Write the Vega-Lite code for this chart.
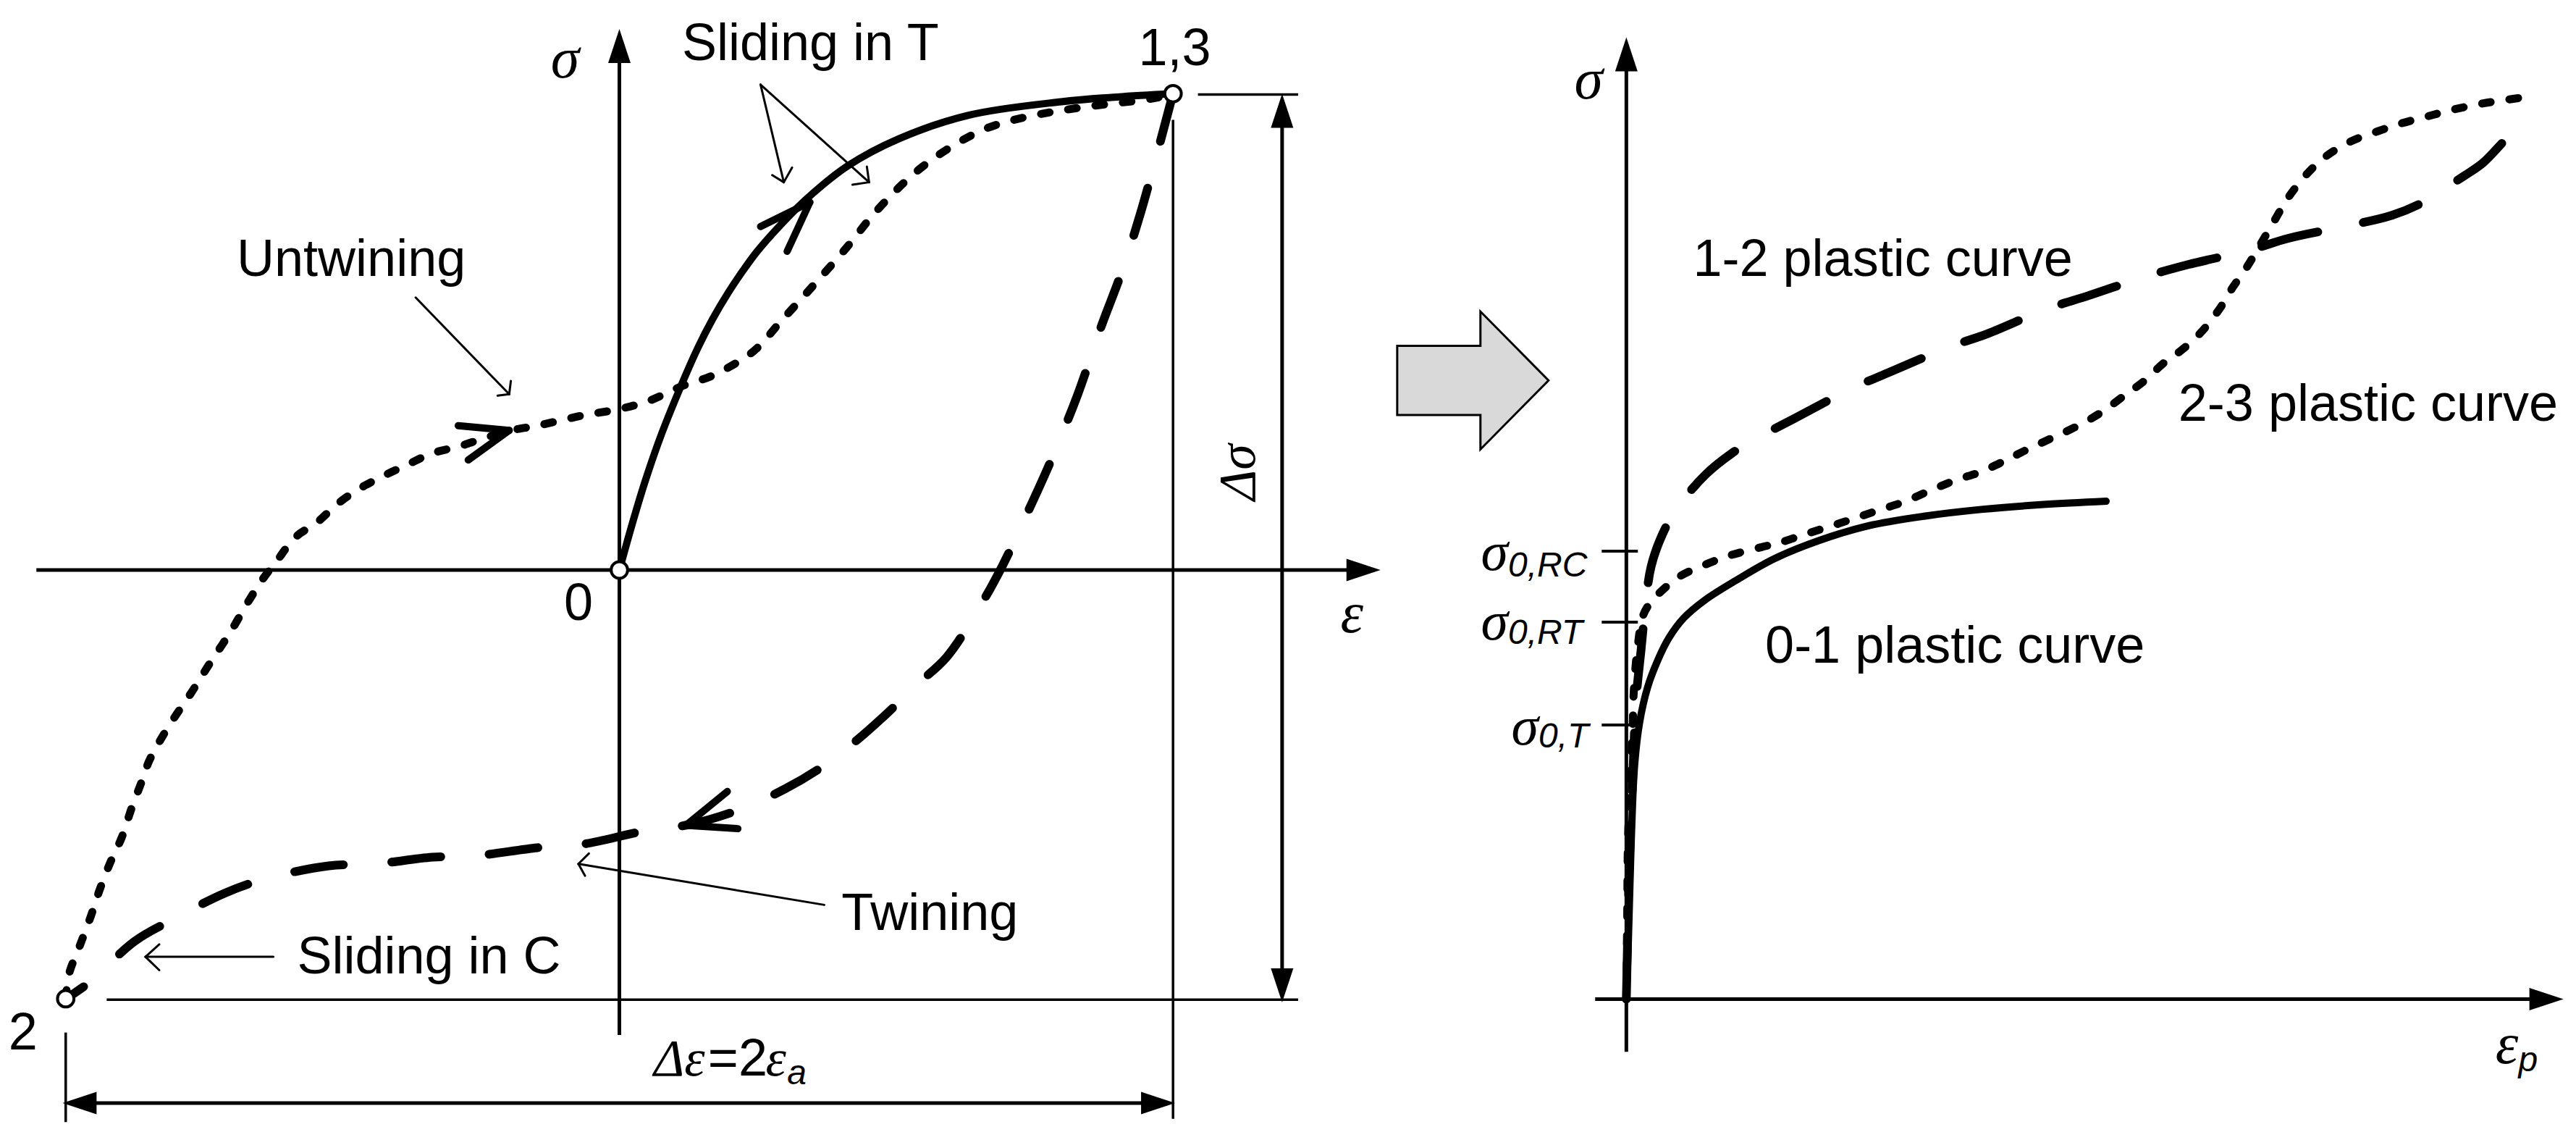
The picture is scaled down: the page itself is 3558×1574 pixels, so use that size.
{
"$schema":"https://vega.github.io/schema/vega-lite/v6.json",
"padding":0,
"bounds":"flush",
"spacing":0,
"config":{"view":{"stroke":null},"concat":{"spacing":0}},
"datasets":{
"lc":[
{"c":"solid","i":0,"x":0,"y":0},{"c":"solid","i":1,"x":0.024,"y":0.1},{"c":"solid","i":2,"x":0.047,"y":0.188},{"c":"solid","i":3,"x":0.077,"y":0.288},{"c":"solid","i":4,"x":0.113,"y":0.391},{"c":"solid","i":5,"x":0.142,"y":0.467},{"c":"solid","i":6,"x":0.169,"y":0.528},{"c":"solid","i":7,"x":0.196,"y":0.581},{"c":"solid","i":8,"x":0.223,"y":0.628},{"c":"solid","i":9,"x":0.249,"y":0.669},{"c":"solid","i":10,"x":0.294,"y":0.728},{"c":"solid","i":11,"x":0.338,"y":0.779},{"c":"solid","i":12,"x":0.412,"y":0.848},{"c":"solid","i":13,"x":0.504,"y":0.905},{"c":"solid","i":14,"x":0.632,"y":0.955},{"c":"solid","i":15,"x":0.798,"y":0.983},{"c":"solid","i":16,"x":0.899,"y":0.993},{"c":"solid","i":17,"x":1,"y":1},
{"c":"dotted","i":0,"x":-1,"y":-0.9},{"c":"dotted","i":1,"x":-0.994,"y":-0.848},{"c":"dotted","i":2,"x":-0.975,"y":-0.79},{"c":"dotted","i":3,"x":-0.955,"y":-0.728},{"c":"dotted","i":4,"x":-0.938,"y":-0.669},{"c":"dotted","i":5,"x":-0.918,"y":-0.61},{"c":"dotted","i":6,"x":-0.899,"y":-0.562},{"c":"dotted","i":7,"x":-0.881,"y":-0.5},{"c":"dotted","i":8,"x":-0.864,"y":-0.448},{"c":"dotted","i":9,"x":-0.849,"y":-0.4},{"c":"dotted","i":10,"x":-0.828,"y":-0.355},{"c":"dotted","i":11,"x":-0.804,"y":-0.31},{"c":"dotted","i":12,"x":-0.774,"y":-0.259},{"c":"dotted","i":13,"x":-0.742,"y":-0.2},{"c":"dotted","i":14,"x":-0.703,"y":-0.131},{"c":"dotted","i":15,"x":-0.668,"y":-0.062},{"c":"dotted","i":16,"x":-0.641,"y":-0.014},{"c":"dotted","i":17,"x":-0.62,"y":0.017},{"c":"dotted","i":18,"x":-0.585,"y":0.069},{"c":"dotted","i":19,"x":-0.546,"y":0.1},{"c":"dotted","i":20,"x":-0.51,"y":0.138},{"c":"dotted","i":21,"x":-0.472,"y":0.169},{"c":"dotted","i":22,"x":-0.427,"y":0.197},{"c":"dotted","i":23,"x":-0.383,"y":0.221},{"c":"dotted","i":24,"x":-0.338,"y":0.245},{"c":"dotted","i":25,"x":-0.291,"y":0.259},{"c":"dotted","i":26,"x":-0.246,"y":0.276},{"c":"dotted","i":27,"x":-0.196,"y":0.293},{"c":"dotted","i":28,"x":-0.148,"y":0.303},{"c":"dotted","i":29,"x":-0.068,"y":0.324},{"c":"dotted","i":30,"x":0,"y":0.338},{"c":"dotted","i":31,"x":0.053,"y":0.355},{"c":"dotted","i":32,"x":0.113,"y":0.386},{"c":"dotted","i":33,"x":0.166,"y":0.407},{"c":"dotted","i":34,"x":0.22,"y":0.441},{"c":"dotted","i":35,"x":0.249,"y":0.466},{"c":"dotted","i":36,"x":0.291,"y":0.521},{"c":"dotted","i":37,"x":0.347,"y":0.593},{"c":"dotted","i":38,"x":0.412,"y":0.679},{"c":"dotted","i":39,"x":0.463,"y":0.752},{"c":"dotted","i":40,"x":0.531,"y":0.831},{"c":"dotted","i":41,"x":0.596,"y":0.886},{"c":"dotted","i":42,"x":0.665,"y":0.928},{"c":"dotted","i":43,"x":0.739,"y":0.952},{"c":"dotted","i":44,"x":0.84,"y":0.972},{"c":"dotted","i":45,"x":0.964,"y":0.99},{"c":"dotted","i":46,"x":1,"y":1},
{"c":"dashed","i":0,"x":1,"y":1},{"c":"dashed","i":1,"x":0.97,"y":0.869},{"c":"dashed","i":2,"x":0.941,"y":0.748},{"c":"dashed","i":3,"x":0.908,"y":0.628},{"c":"dashed","i":4,"x":0.869,"y":0.507},{"c":"dashed","i":5,"x":0.828,"y":0.369},{"c":"dashed","i":6,"x":0.78,"y":0.231},{"c":"dashed","i":7,"x":0.733,"y":0.11},{"c":"dashed","i":8,"x":0.691,"y":0.007},{"c":"dashed","i":9,"x":0.65,"y":-0.079},{"c":"dashed","i":10,"x":0.591,"y":-0.183},{"c":"dashed","i":11,"x":0.537,"y":-0.241},{"c":"dashed","i":12,"x":0.478,"y":-0.307},{"c":"dashed","i":13,"x":0.424,"y":-0.362},{"c":"dashed","i":14,"x":0.365,"y":-0.414},{"c":"dashed","i":15,"x":0.3,"y":-0.459},{"c":"dashed","i":16,"x":0.217,"y":-0.503},{"c":"dashed","i":17,"x":0.128,"y":-0.534},{"c":"dashed","i":18,"x":0.045,"y":-0.548},{"c":"dashed","i":19,"x":-0.068,"y":-0.576},{"c":"dashed","i":20,"x":-0.148,"y":-0.583},{"c":"dashed","i":21,"x":-0.261,"y":-0.6},{"c":"dashed","i":22,"x":-0.338,"y":-0.603},{"c":"dashed","i":23,"x":-0.442,"y":-0.617},{"c":"dashed","i":24,"x":-0.525,"y":-0.621},{"c":"dashed","i":25,"x":-0.638,"y":-0.648},{"c":"dashed","i":26,"x":-0.712,"y":-0.678},{"c":"dashed","i":27,"x":-0.807,"y":-0.734},{"c":"dashed","i":28,"x":-0.875,"y":-0.779},{"c":"dashed","i":29,"x":-0.961,"y":-0.869},{"c":"dashed","i":30,"x":-1,"y":-0.9}
],
"lr":[
{"k":"axis","x":-1.053,"y":0,"x2":1.329,"y2":0},
{"k":"axis","x":0,"y":-0.976,"x2":0,"y2":1.076},
{"k":"ext","x":1.045,"y":0.998,"x2":1.226,"y2":0.998},
{"k":"ext","x":-0.926,"y":-0.902,"x2":1.226,"y2":-0.902},
{"k":"ext","x":-1,"y":-0.971,"x2":-1,"y2":-1.159},
{"k":"ext","x":1,"y":0.945,"x2":1,"y2":-1.152},
{"k":"dim","x":1.197,"y":0.948,"x2":1.197,"y2":-0.859},
{"k":"dim","x":-0.961,"y":-1.119,"x2":0.958,"y2":-1.119},
{"k":"lead","x":-0.368,"y":0.572,"x2":-0.199,"y2":0.369},
{"k":"lead","x":-0.199,"y":0.369,"x2":-0.196,"y2":0.397},
{"k":"lead","x":-0.199,"y":0.369,"x2":-0.22,"y2":0.366},
{"k":"lead","x":0.255,"y":1.019,"x2":0.297,"y2":0.814},
{"k":"lead","x":0.297,"y":0.814,"x2":0.276,"y2":0.829},
{"k":"lead","x":0.297,"y":0.814,"x2":0.312,"y2":0.845},
{"k":"lead","x":0.255,"y":1.019,"x2":0.451,"y2":0.814},
{"k":"lead","x":0.451,"y":0.814,"x2":0.421,"y2":0.809},
{"k":"lead","x":0.451,"y":0.814,"x2":0.447,"y2":0.847},
{"k":"lead","x":0.37,"y":-0.703,"x2":-0.074,"y2":-0.617},
{"k":"lead","x":-0.074,"y":-0.617,"x2":-0.055,"y2":-0.595},
{"k":"lead","x":-0.074,"y":-0.617,"x2":-0.062,"y2":-0.642},
{"k":"lead","x":-0.625,"y":-0.812,"x2":-0.856,"y2":-0.812},
{"k":"lead","x":-0.856,"y":-0.812,"x2":-0.831,"y2":-0.786},
{"k":"lead","x":-0.856,"y":-0.812,"x2":-0.831,"y2":-0.84},
{"k":"barb","x":0.344,"y":0.772,"x2":0.255,"y2":0.721},
{"k":"barb","x":0.344,"y":0.772,"x2":0.303,"y2":0.669},
{"k":"barb","x":-0.199,"y":0.293,"x2":-0.291,"y2":0.303},
{"k":"barb","x":-0.199,"y":0.293,"x2":-0.273,"y2":0.231},
{"k":"barb","x":0.12,"y":-0.536,"x2":0.195,"y2":-0.465},
{"k":"barb","x":0.12,"y":-0.536,"x2":0.214,"y2":-0.543}
],
"lh":[
{"dir":"up","x":0,"y":1.1},
{"dir":"right","x":1.344,"y":0},
{"dir":"up","x":1.197,"y":0.964},
{"dir":"down","x":1.197,"y":-0.872},
{"dir":"left","x":-0.975,"y":-1.119},
{"dir":"right","x":0.973,"y":-1.119}
],
"lp":[{"x":0,"y":0},{"x":1,"y":1},{"x":-1,"y":-0.9}],
"lt":[
{"k":"sl","t":"Sliding in T","x":0.113,"y":1.07},
{"k":"sl","t":"Untwining","x":-0.691,"y":0.617},
{"k":"sl","t":"Twining","x":0.401,"y":-0.755},
{"k":"sl","t":"Sliding in C","x":-0.582,"y":-0.847},
{"k":"sl","t":"=2","x":0.16,"y":-1.062},
{"k":"sc","t":"0","x":-0.074,"y":-0.105},
{"k":"sc","t":"1,3","x":1.003,"y":1.059},
{"k":"sc","t":"2","x":-1.077,"y":-1.007},
{"k":"gc","t":"σ","x":-0.098,"y":1.034},
{"k":"gc","t":"ε","x":1.323,"y":-0.131},
{"k":"gl","t":"Δε","x":0.062,"y":-1.062},
{"k":"gl","t":"ε","x":0.264,"y":-1.062},
{"k":"ss","t":"a","x":0.303,"y":-1.079},
{"k":"rot","t":"Δσ","x":1.148,"y":0.205}
],
"arrow":[{"x":0.369,"y":0.398}],
"rc":[
{"c":"solid","i":0,"x":0,"y":0},{"c":"solid","i":1,"x":0.01,"y":0.28},{"c":"solid","i":2,"x":0.02,"y":0.63},{"c":"solid","i":3,"x":0.03,"y":0.97},{"c":"solid","i":4,"x":0.05,"y":1.42},{"c":"solid","i":5,"x":0.08,"y":1.68},{"c":"solid","i":6,"x":0.13,"y":1.9},{"c":"solid","i":7,"x":0.19,"y":2.06},{"c":"solid","i":8,"x":0.26,"y":2.2},{"c":"solid","i":9,"x":0.35,"y":2.32},{"c":"solid","i":10,"x":0.48,"y":2.43},{"c":"solid","i":11,"x":0.67,"y":2.55},{"c":"solid","i":12,"x":0.9,"y":2.68},{"c":"solid","i":13,"x":1.17,"y":2.79},{"c":"solid","i":14,"x":1.47,"y":2.88},{"c":"solid","i":15,"x":1.82,"y":2.94},{"c":"solid","i":16,"x":2.16,"y":2.98},{"c":"solid","i":17,"x":2.54,"y":3.01},{"c":"solid","i":18,"x":2.92,"y":3.03},
{"c":"dotted","i":0,"x":0,"y":0},{"c":"dotted","i":1,"x":0.005,"y":0.48},{"c":"dotted","i":2,"x":0.01,"y":0.97},{"c":"dotted","i":3,"x":0.023,"y":1.3},{"c":"dotted","i":4,"x":0.038,"y":1.64},{"c":"dotted","i":5,"x":0.045,"y":1.87},{"c":"dotted","i":6,"x":0.067,"y":2.13},{"c":"dotted","i":7,"x":0.104,"y":2.34},{"c":"dotted","i":8,"x":0.16,"y":2.43},{"c":"dotted","i":9,"x":0.21,"y":2.48},{"c":"dotted","i":10,"x":0.32,"y":2.57},{"c":"dotted","i":11,"x":0.47,"y":2.64},{"c":"dotted","i":12,"x":0.63,"y":2.7},{"c":"dotted","i":13,"x":0.82,"y":2.75},{"c":"dotted","i":14,"x":0.94,"y":2.78},{"c":"dotted","i":15,"x":1.09,"y":2.83},{"c":"dotted","i":16,"x":1.25,"y":2.88},{"c":"dotted","i":17,"x":1.4,"y":2.93},{"c":"dotted","i":18,"x":1.55,"y":2.98},{"c":"dotted","i":19,"x":1.7,"y":3.03},{"c":"dotted","i":20,"x":1.86,"y":3.1},{"c":"dotted","i":21,"x":2.01,"y":3.16},{"c":"dotted","i":22,"x":2.16,"y":3.21},{"c":"dotted","i":23,"x":2.31,"y":3.28},{"c":"dotted","i":24,"x":2.43,"y":3.34},{"c":"dotted","i":25,"x":2.58,"y":3.41},{"c":"dotted","i":26,"x":2.73,"y":3.48},{"c":"dotted","i":27,"x":2.89,"y":3.57},{"c":"dotted","i":28,"x":3.04,"y":3.68},{"c":"dotted","i":29,"x":3.15,"y":3.76},{"c":"dotted","i":30,"x":3.27,"y":3.87},{"c":"dotted","i":31,"x":3.38,"y":3.95},{"c":"dotted","i":32,"x":3.5,"y":4.06},{"c":"dotted","i":33,"x":3.61,"y":4.2},{"c":"dotted","i":34,"x":3.69,"y":4.33},{"c":"dotted","i":35,"x":3.78,"y":4.46},{"c":"dotted","i":36,"x":3.84,"y":4.56},{"c":"dotted","i":37,"x":3.94,"y":4.73},{"c":"dotted","i":38,"x":4.03,"y":4.88},{"c":"dotted","i":39,"x":4.15,"y":5.03},{"c":"dotted","i":40,"x":4.26,"y":5.13},{"c":"dotted","i":41,"x":4.41,"y":5.22},{"c":"dotted","i":42,"x":4.57,"y":5.28},{"c":"dotted","i":43,"x":4.72,"y":5.33},{"c":"dotted","i":44,"x":4.87,"y":5.37},{"c":"dotted","i":45,"x":5.02,"y":5.41},{"c":"dotted","i":46,"x":5.21,"y":5.45},{"c":"dotted","i":47,"x":5.48,"y":5.49},
{"c":"dashed","i":0,"x":0,"y":0},{"c":"dashed","i":1,"x":0.01,"y":0.48},{"c":"dashed","i":2,"x":0.02,"y":0.88},{"c":"dashed","i":3,"x":0.04,"y":1.38},{"c":"dashed","i":4,"x":0.06,"y":1.83},{"c":"dashed","i":5,"x":0.09,"y":2.13},{"c":"dashed","i":6,"x":0.115,"y":2.38},{"c":"dashed","i":7,"x":0.15,"y":2.63},{"c":"dashed","i":8,"x":0.22,"y":2.83},{"c":"dashed","i":9,"x":0.31,"y":2.99},{"c":"dashed","i":10,"x":0.48,"y":3.19},{"c":"dashed","i":11,"x":0.64,"y":3.32},{"c":"dashed","i":12,"x":0.806,"y":3.42},{"c":"dashed","i":13,"x":1.016,"y":3.53},{"c":"dashed","i":14,"x":1.38,"y":3.72},{"c":"dashed","i":15,"x":1.59,"y":3.81},{"c":"dashed","i":16,"x":1.97,"y":3.97},{"c":"dashed","i":17,"x":2.2,"y":4.05},{"c":"dashed","i":18,"x":2.56,"y":4.2},{"c":"dashed","i":19,"x":2.81,"y":4.28},{"c":"dashed","i":20,"x":3.17,"y":4.4},{"c":"dashed","i":21,"x":3.42,"y":4.47},{"c":"dashed","i":22,"x":3.8,"y":4.56},{"c":"dashed","i":23,"x":4.03,"y":4.63},{"c":"dashed","i":24,"x":4.41,"y":4.71},{"c":"dashed","i":25,"x":4.66,"y":4.77},{"c":"dashed","i":26,"x":4.85,"y":4.85},{"c":"dashed","i":27,"x":4.99,"y":4.94},{"c":"dashed","i":28,"x":5.1,"y":5.01},{"c":"dashed","i":29,"x":5.215,"y":5.09},{"c":"dashed","i":30,"x":5.35,"y":5.23},{"c":"dashed","i":31,"x":5.5,"y":5.38}
],
"rr":[
{"k":"axis","x":0,"y":-0.32,"x2":0,"y2":5.7},
{"k":"axis","x":-0.19,"y":0,"x2":5.55,"y2":0},
{"k":"tick","x":-0.15,"y":2.726,"x2":0.07,"y2":2.726},
{"k":"tick","x":-0.15,"y":2.294,"x2":0.07,"y2":2.294},
{"k":"tick","x":-0.15,"y":1.668,"x2":0.07,"y2":1.668}
],
"rh":[{"dir":"up","x":0,"y":5.75},{"dir":"right","x":5.6,"y":0}],
"rt":[
{"k":"sl","t":"1-2 plastic curve","x":0.406,"y":4.403},
{"k":"sl","t":"2-3 plastic curve","x":3.36,"y":3.518},
{"k":"sl","t":"0-1 plastic curve","x":0.845,"y":2.046},
{"k":"gc","t":"σ","x":-0.23,"y":5.48},
{"k":"gl","t":"ε","x":5.29,"y":-0.39},
{"k":"ss","t":"p","x":5.43,"y":-0.44},
{"k":"gr","t":"σ","x":-0.72,"y":2.61},
{"k":"ss","t":"0,RC","x":-0.72,"y":2.57},
{"k":"gr","t":"σ","x":-0.72,"y":2.19},
{"k":"ss","t":"0,RT","x":-0.72,"y":2.16},
{"k":"gr","t":"σ","x":-0.535,"y":1.55},
{"k":"ss","t":"0,T","x":-0.535,"y":1.53}
]
},
"hconcat":[
{
"width":1917,"height":1574,
"encoding":{
"x":{"field":"x","type":"quantitative","scale":{"domain":[-1.1187,1.3881],"nice":false,"zero":false},"axis":null},
"y":{"field":"y","type":"quantitative","scale":{"domain":[-1.1966,1.1966],"nice":false,"zero":false},"axis":null}
},
"layer":[
{"data":{"name":"lr"},"transform":[{"filter":"datum.k==='ext'"}],"mark":{"type":"rule","color":"black","strokeWidth":3.5},"encoding":{"x2":{"field":"x2"},"y2":{"field":"y2"}}},
{"data":{"name":"lr"},"transform":[{"filter":"datum.k==='lead'"}],"mark":{"type":"rule","color":"black","strokeWidth":3,"strokeCap":"round"},"encoding":{"x2":{"field":"x2"},"y2":{"field":"y2"}}},
{"data":{"name":"lr"},"transform":[{"filter":"datum.k==='axis'"}],"mark":{"type":"rule","color":"black","strokeWidth":5},"encoding":{"x2":{"field":"x2"},"y2":{"field":"y2"}}},
{"data":{"name":"lr"},"transform":[{"filter":"datum.k==='dim'"}],"mark":{"type":"rule","color":"black","strokeWidth":5},"encoding":{"x2":{"field":"x2"},"y2":{"field":"y2"}}},
{"data":{"name":"lc"},"transform":[{"filter":"datum.c==='solid'"}],"mark":{"type":"line","color":"black","strokeWidth":10,"strokeCap":"round","strokeJoin":"round","interpolate":"catmull-rom"},"encoding":{"order":{"field":"i","type":"quantitative"}}},
{"data":{"name":"lc"},"transform":[{"filter":"datum.c==='dotted'"}],"mark":{"type":"line","color":"black","strokeWidth":11,"strokeCap":"round","strokeJoin":"round","strokeDash":[12,26],"interpolate":"catmull-rom"},"encoding":{"order":{"field":"i","type":"quantitative"}}},
{"data":{"name":"lc"},"transform":[{"filter":"datum.c==='dashed'"}],"mark":{"type":"line","color":"black","strokeWidth":12,"strokeCap":"round","strokeJoin":"round","strokeDash":[68,67],"interpolate":"catmull-rom"},"encoding":{"order":{"field":"i","type":"quantitative"}}},
{"data":{"name":"lr"},"transform":[{"filter":"datum.k==='barb'"}],"mark":{"type":"rule","color":"black","strokeWidth":10,"strokeCap":"round"},"encoding":{"x2":{"field":"x2"},"y2":{"field":"y2"}}},
{"data":{"name":"lh"},"transform":[{"filter":"datum.dir==='up'"}],"mark":{"type":"point","shape":"M0,-1L0.66,1L-0.66,1Z","filled":true,"color":"black","size":2209,"opacity":1,"angle":0}},
{"data":{"name":"lh"},"transform":[{"filter":"datum.dir==='right'"}],"mark":{"type":"point","shape":"M0,-1L0.66,1L-0.66,1Z","filled":true,"color":"black","size":2209,"opacity":1,"angle":90}},
{"data":{"name":"lh"},"transform":[{"filter":"datum.dir==='down'"}],"mark":{"type":"point","shape":"M0,-1L0.66,1L-0.66,1Z","filled":true,"color":"black","size":2209,"opacity":1,"angle":180}},
{"data":{"name":"lh"},"transform":[{"filter":"datum.dir==='left'"}],"mark":{"type":"point","shape":"M0,-1L0.66,1L-0.66,1Z","filled":true,"color":"black","size":2209,"opacity":1,"angle":270}},
{"data":{"name":"lp"},"mark":{"type":"point","shape":"circle","size":520,"filled":true,"fill":"white","stroke":"black","strokeWidth":4,"opacity":1}},
{"data":{"name":"lt"},"transform":[{"filter":"datum.k==='sl'"}],"mark":{"type":"text","font":"Liberation Sans","fontSize":72,"align":"left","baseline":"alphabetic","color":"black"},"encoding":{"text":{"field":"t"}}},
{"data":{"name":"lt"},"transform":[{"filter":"datum.k==='sc'"}],"mark":{"type":"text","font":"Liberation Sans","fontSize":72,"align":"center","baseline":"alphabetic","color":"black"},"encoding":{"text":{"field":"t"}}},
{"data":{"name":"lt"},"transform":[{"filter":"datum.k==='gc'"}],"mark":{"type":"text","font":"Liberation Serif","fontStyle":"italic","fontSize":80,"align":"center","baseline":"alphabetic","color":"black"},"encoding":{"text":{"field":"t"}}},
{"data":{"name":"lt"},"transform":[{"filter":"datum.k==='gl'"}],"mark":{"type":"text","font":"Liberation Serif","fontStyle":"italic","fontSize":72,"align":"left","baseline":"alphabetic","color":"black"},"encoding":{"text":{"field":"t"}}},
{"data":{"name":"lt"},"transform":[{"filter":"datum.k==='ss'"}],"mark":{"type":"text","font":"Liberation Sans","fontStyle":"italic","fontSize":48,"align":"left","baseline":"alphabetic","color":"black"},"encoding":{"text":{"field":"t"}}},
{"data":{"name":"lt"},"transform":[{"filter":"datum.k==='rot'"}],"mark":{"type":"text","font":"Liberation Serif","fontStyle":"italic","fontSize":72,"align":"center","baseline":"alphabetic","angle":270,"color":"black"},"encoding":{"text":{"field":"t"}}}
]
},
{
"width":318,"height":1574,
"data":{"name":"arrow"},
"mark":{"type":"point","shape":"M-1,-0.458L0.1,-0.458L0.1,-0.911L1,0L0.1,0.911L0.1,0.458L-1,0.458Z","size":43681,"filled":true,"fill":"#d9d9d9","stroke":"black","strokeWidth":3,"strokeJoin":"miter","opacity":1},
"encoding":{
"x":{"field":"x","type":"quantitative","scale":{"domain":[0,1],"nice":false,"zero":false},"axis":null},
"y":{"field":"y","type":"quantitative","scale":{"domain":[-1.1966,1.1966],"nice":false,"zero":false},"axis":null}
}
},
{
"width":1323,"height":1574,
"encoding":{
"x":{"field":"x","type":"quantitative","scale":{"domain":[-0.05,5.78],"nice":false,"zero":false},"axis":null},
"y":{"field":"y","type":"quantitative","scale":{"domain":[-0.857,6.08],"nice":false,"zero":false},"axis":null}
},
"layer":[
{"data":{"name":"rr"},"transform":[{"filter":"datum.k==='axis'"}],"mark":{"type":"rule","color":"black","strokeWidth":5},"encoding":{"x2":{"field":"x2"},"y2":{"field":"y2"}}},
{"data":{"name":"rr"},"transform":[{"filter":"datum.k==='tick'"}],"mark":{"type":"rule","color":"black","strokeWidth":4},"encoding":{"x2":{"field":"x2"},"y2":{"field":"y2"}}},
{"data":{"name":"rc"},"transform":[{"filter":"datum.c==='solid'"}],"mark":{"type":"line","color":"black","strokeWidth":10,"strokeCap":"round","strokeJoin":"round","interpolate":"catmull-rom"},"encoding":{"order":{"field":"i","type":"quantitative"}}},
{"data":{"name":"rc"},"transform":[{"filter":"datum.c==='dotted'"}],"mark":{"type":"line","color":"black","strokeWidth":11,"strokeCap":"round","strokeJoin":"round","strokeDash":[12,26],"interpolate":"catmull-rom"},"encoding":{"order":{"field":"i","type":"quantitative"}}},
{"data":{"name":"rc"},"transform":[{"filter":"datum.c==='dashed'"}],"mark":{"type":"line","color":"black","strokeWidth":12,"strokeCap":"round","strokeJoin":"round","strokeDash":[80,64],"interpolate":"catmull-rom"},"encoding":{"order":{"field":"i","type":"quantitative"}}},
{"data":{"name":"rh"},"transform":[{"filter":"datum.dir==='up'"}],"mark":{"type":"point","shape":"M0,-1L0.66,1L-0.66,1Z","filled":true,"color":"black","size":2209,"opacity":1,"angle":0}},
{"data":{"name":"rh"},"transform":[{"filter":"datum.dir==='right'"}],"mark":{"type":"point","shape":"M0,-1L0.66,1L-0.66,1Z","filled":true,"color":"black","size":2209,"opacity":1,"angle":90}},
{"data":{"name":"rt"},"transform":[{"filter":"datum.k==='sl'"}],"mark":{"type":"text","font":"Liberation Sans","fontSize":72,"align":"left","baseline":"alphabetic","color":"black"},"encoding":{"text":{"field":"t"}}},
{"data":{"name":"rt"},"transform":[{"filter":"datum.k==='gc'"}],"mark":{"type":"text","font":"Liberation Serif","fontStyle":"italic","fontSize":80,"align":"center","baseline":"alphabetic","color":"black"},"encoding":{"text":{"field":"t"}}},
{"data":{"name":"rt"},"transform":[{"filter":"datum.k==='gl'"}],"mark":{"type":"text","font":"Liberation Serif","fontStyle":"italic","fontSize":80,"align":"left","baseline":"alphabetic","color":"black"},"encoding":{"text":{"field":"t"}}},
{"data":{"name":"rt"},"transform":[{"filter":"datum.k==='gr'"}],"mark":{"type":"text","font":"Liberation Serif","fontStyle":"italic","fontSize":76,"align":"right","baseline":"alphabetic","color":"black"},"encoding":{"text":{"field":"t"}}},
{"data":{"name":"rt"},"transform":[{"filter":"datum.k==='ss'"}],"mark":{"type":"text","font":"Liberation Sans","fontStyle":"italic","fontSize":48,"align":"left","baseline":"alphabetic","color":"black"},"encoding":{"text":{"field":"t"}}}
]
}
]
}
